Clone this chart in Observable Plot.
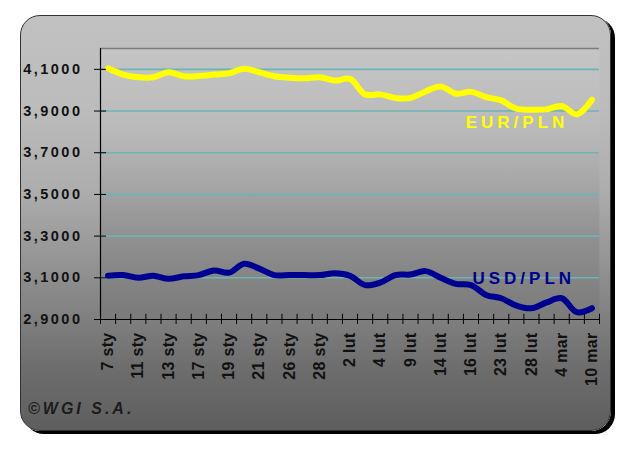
<!DOCTYPE html>
<html><head><meta charset="utf-8">
<script src="https://cdn.jsdelivr.net/npm/d3@7"></script>
<script src="https://cdn.jsdelivr.net/npm/@observablehq/plot@0.6"></script>
<style>
body{margin:0;background:#fff;}
#wrap{position:relative;width:640px;height:453px;background:#fff;overflow:hidden;font-family:"Liberation Sans",Arial,sans-serif;}
#panel{position:absolute;left:20px;top:15px;width:591px;height:416px;box-sizing:border-box;border:1px solid #333;border-radius:20px;
 background:linear-gradient(to bottom,#c1c1c1 0%,#bcbcbc 22%,#adadad 42%,#969696 58%,#7e7e7e 74%,#6c6c6c 86%,#5e5e5e 100%);
 box-shadow:4px 3px 0 #000;}
#chart{position:absolute;left:0;top:0;}
#copy{position:absolute;left:28px;top:400px;font:italic bold 16px "Liberation Sans",Arial,sans-serif;letter-spacing:3px;color:#1c1c1c;}
#chart g[aria-label="y-axis tick label"] text{letter-spacing:2.5px;}
#chart g[aria-label="x-axis tick label"] text{letter-spacing:0.3px;}
#chart g[aria-label="text"] text{letter-spacing:4px;}
</style></head>
<body>
<svg width="0" height="0" style="position:absolute"><defs>
<linearGradient id="plotbg" x1="0" y1="0" x2="0" y2="1">
<stop offset="0" stop-color="#c5c5c5"/><stop offset="0.3" stop-color="#bababa"/>
<stop offset="0.5" stop-color="#a6a6a6"/><stop offset="0.68" stop-color="#929292"/>
<stop offset="0.85" stop-color="#848484"/><stop offset="1" stop-color="#7a7a7a"/>
</linearGradient></defs></svg>
<div id="wrap"><div id="panel"></div><div id="chart"></div><div id="copy">©WGI S.A.</div></div>
<script>
const categories = ["7 sty","10 sty","11 sty","12 sty","13 sty","14 sty","17 sty","18 sty","19 sty","20 sty","21 sty","24 sty","26 sty","27 sty","28 sty","31 sty","2 lut","3 lut","4 lut","8 lut","9 lut","10 lut","14 lut","15 lut","16 lut","22 lut","23 lut","24 lut","28 lut","3 mar","4 mar","5 mar","10 mar"];
const eurPln = [4.105,4.075,4.062,4.062,4.086,4.067,4.068,4.075,4.081,4.103,4.086,4.067,4.060,4.057,4.062,4.046,4.054,3.980,3.980,3.963,3.963,3.994,4.018,3.983,3.992,3.967,3.951,3.911,3.906,3.908,3.924,3.884,3.954];
const usdPln = [3.110,3.113,3.100,3.110,3.095,3.107,3.113,3.135,3.125,3.167,3.144,3.113,3.113,3.113,3.113,3.122,3.110,3.065,3.077,3.113,3.116,3.132,3.100,3.071,3.065,3.018,3.002,2.967,2.954,2.982,3.002,2.935,2.954];
const yTicks = [2.9,3.1,3.3,3.5,3.7,3.9,4.1];
const seriesNames = ["EUR/PLN","USD/PLN"];

const rows = categories.map((c,i)=>({i:i+0.5, cat:c, eur:eurPln[i], usd:usdPln[i]}));
const n = categories.length;
const boundaries = d3.range(0, n+1);
const labelPos = d3.range(0, n, 2).map(i=>i+0.5);
const fmt = v => v.toFixed(4).replace(".", ",");

const chart = Plot.plot({
  width: 640, height: 453,
  marginLeft: 100, marginRight: 41, marginTop: 48, marginBottom: 134,
  x: {domain: [0, n]},
  y: {domain: [2.9, 4.2]},
  style: {background: "transparent", color: "#111", fontFamily: '"Liberation Sans", Arial, sans-serif'},
  marks: [
    Plot.frame({fill: "url(#plotbg)", stroke: null}),
    Plot.ruleY(yTicks.slice(1), {stroke: "#6cb5b5", strokeWidth: 1.6}),
    Plot.ruleY([4.2], {stroke: "#7c7c7c", strokeWidth: 1.5}),
    Plot.line(rows, {x: "i", y: "eur", stroke: "#ffff00", strokeWidth: 6, curve: "catmull-rom"}),
    Plot.line(rows, {x: "i", y: "usd", stroke: "#000090", strokeWidth: 6, curve: "catmull-rom"}),
    Plot.ruleX([0], {stroke: "#000", strokeWidth: 1.2}),
    Plot.ruleY([2.9], {stroke: "#000", strokeWidth: 1.2}),
    Plot.ruleY(yTicks, {x1: 0, x2: 0.4, stroke: "#000"}),
    Plot.ruleX(boundaries, {y1: 2.9, y2: 2.925, stroke: "#000"}),
    Plot.axisY({ticks: yTicks, tickFormat: fmt, tickSize: 6, tickPadding: 12, label: null, fontSize: 14.5, fontWeight: "bold", stroke: "#000"}),
    Plot.axisX({ticks: boundaries, tickFormat: () => "", tickSize: 5, label: null, stroke: "#000"}),
    Plot.axisX({ticks: labelPos, tickFormat: v => categories[Math.floor(v)], tickSize: 0, tickPadding: 13, tickRotate: -90, label: null, fontSize: 16, fontWeight: "bold"}),
    Plot.text([{x: 24.15, y: 3.819, t: seriesNames[0], c: "#ffff00"}, {x: 24.6, y: 3.071, t: seriesNames[1], c: "#000090"}],
      {x: "x", y: "y", text: "t", fill: "c", textAnchor: "start", lineAnchor: "bottom", fontSize: 17, fontWeight: "bold"})
  ]
});
document.getElementById("chart").appendChild(chart);
</script>
</body></html>
